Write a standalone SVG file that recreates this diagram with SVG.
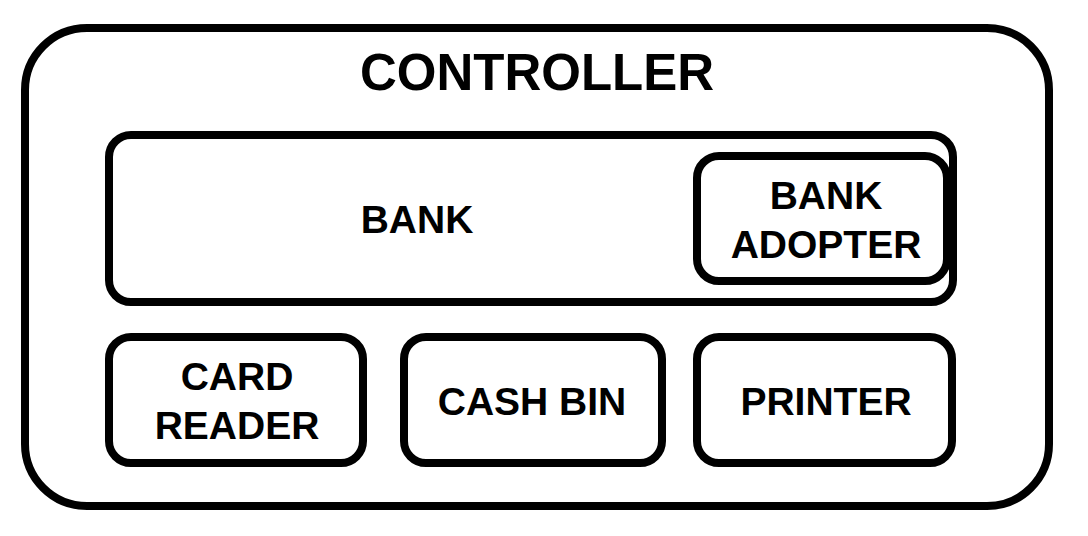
<svg xmlns="http://www.w3.org/2000/svg" width="1088" height="536" viewBox="0 0 1088 536">
<style>
.box{fill:#fff;stroke:#000;stroke-width:8}
.t{font-family:"Liberation Sans",Arial,Helvetica,sans-serif;font-weight:bold;font-size:39px;fill:#000;text-anchor:middle}
.title{font-size:51px}
</style>
<rect x="0" y="0" width="1088" height="536" fill="#fff"/>
<g id="controller">
<rect class="box" x="25" y="28" width="1024" height="478" rx="62" ry="62"/>
<text class="t title" x="537" y="90">CONTROLLER</text>
</g>
<g id="bank">
<rect class="box" x="109" y="135" width="844" height="167" rx="22" ry="22"/>
<text class="t" x="417" y="233">BANK</text>
</g>
<g id="bank-adopter">
<rect class="box" x="697" y="156" width="250" height="125" rx="22" ry="22"/>
<text class="t" x="826" y="209">BANK</text>
<text class="t" x="826" y="258">ADOPTER</text>
</g>
<g id="card-reader">
<rect class="box" x="109" y="337" width="254" height="126" rx="22" ry="22"/>
<text class="t" x="237" y="390">CARD</text>
<text class="t" x="237" y="439">READER</text>
</g>
<g id="cash-bin">
<rect class="box" x="404" y="337" width="258" height="126" rx="22" ry="22"/>
<text class="t" x="532" y="415">CASH BIN</text>
</g>
<g id="printer">
<rect class="box" x="697" y="337" width="255" height="126" rx="22" ry="22"/>
<text class="t" x="826" y="415">PRINTER</text>
</g>
<g id="connectors"></g>
</svg>
